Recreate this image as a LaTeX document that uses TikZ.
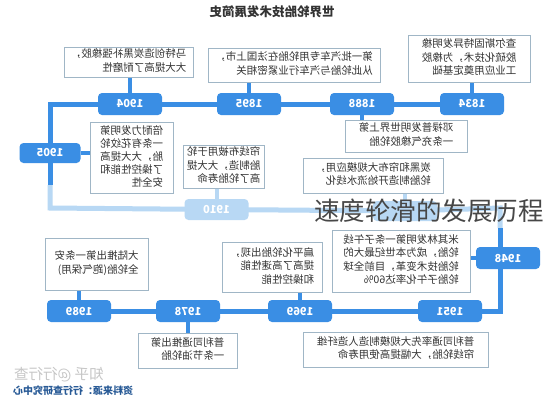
\documentclass[tikz,border=0pt]{standalone}
\usepackage{fontspec}
\setmainfont{Noto Sans CJK SC}
\usepackage{graphicx}
\usepackage{tikz}
\usetikzlibrary{backgrounds}
\definecolor{tlblue}{RGB}{58,142,228}
\definecolor{tlfade}{RGB}{184,216,244}
\definecolor{boxln}{RGB}{160,182,198}
\definecolor{ink}{RGB}{51,51,51}
\definecolor{srcblue}{RGB}{40,90,150}
\newcommand{\mirr}[1]{\reflectbox{\begin{tabular}{@{}l@{}}#1\end{tabular}}}

\begin{document}
\begin{tikzpicture}[x=1pt,y=-1pt,
  yearpill/.style={fill=tlblue,rounded corners=4pt,minimum width=64pt,minimum height=22pt,
    inner sep=0pt,text=white,font=\bfseries\fontsize{11}{11}\selectfont},
  fadepill/.style={yearpill,fill=tlfade},
  notebox/.style={draw=boxln,line width=0.8pt,fill=white,text=ink,inner sep=0pt,
    font=\fontsize{10.5}{13.5}\selectfont},
  tl/.style={line width=5pt,tlblue}, tlfd/.style={line width=5pt,tlfade},
  stem/.style={line width=4pt,tlblue}, stemfd/.style={line width=4pt,tlfade}]
\useasboundingbox (0,0) rectangle (545,400);

% title
\node[font=\bfseries\fontsize{12.5}{12.5}\selectfont,text=ink] (title) at (272,12) {\reflectbox{世界轮胎技术发展简史}};

% top row
\node[yearpill] (p1834) at (472,104) {\reflectbox{1834}};
\node[yearpill] (p1888) at (362,104) {\reflectbox{1888}};
\node[yearpill] (p1895) at (249,104) {\reflectbox{1895}};
\node[yearpill] (p1904) at (130,104) {\reflectbox{1904}};
\node[notebox,minimum width=122pt,minimum height=47pt] (n1834) at (469,58.5)
  {\mirr{查尔斯固特异发明橡\\胶硫化技术，为橡胶\\工业应用奠定基础}};
\node[notebox,minimum width=172pt,minimum height=34pt] (n1895) at (294,65)
  {\mirr{第一批汽车专用轮胎在法国上市，\\从此轮胎与汽车行业紧密相关}};
\node[notebox,minimum width=129pt,minimum height=30pt] (n1904) at (128.5,62)
  {\mirr{马特创造炭黑补强橡胶，\\大大提高了耐磨性}};
\node[notebox,minimum width=122pt,minimum height=32pt] (n1888) at (406,136)
  {\mirr{邓禄普发明世界上第\\一条充气橡胶轮胎}};

% middle (faded) row
\node[yearpill,minimum width=61pt,minimum height=20pt] (p1905) at (50,153) {\reflectbox{1905}};
\node[notebox,minimum width=83pt,minimum height=71pt,font=\fontsize{10.5}{13}\selectfont] (n1905) at (131.5,157.5)
  {\mirr{倍耐力发明第\\一条有花纹轮\\胎，大大提高\\了操控性能和\\安全性}};
\node[fadepill,minimum height=21pt] (p1910) at (216.5,209.5) {\reflectbox{1910}};
\node[notebox,minimum width=81pt,minimum height=43pt] (n1910) at (223.5,166.5)
  {\mirr{帘线布被用于轮\\胎制造，大大提\\高了轮胎寿命}};
\node[fadepill,minimum height=20pt] (phide) at (405,211) {};
\node[notebox,minimum width=140pt,minimum height=35pt] (nblack) at (373,175.5)
  {\mirr{炭黑和帘布大规模应用，\\轮胎制造开始流水线化}};

% lower rows
\node[yearpill] (p1948) at (508,258) {\reflectbox{1948}};
\node[notebox,minimum width=138pt,minimum height=62pt] (n1948) at (401,261)
  {\mirr{米其林发明第一条子午线\\轮胎，成为本世纪最大的\\轮胎技术变革，目前全球\\轮胎子午化率达60\%}};
\node[yearpill] (p1951) at (450,311) {\reflectbox{1951}};
\node[yearpill] (p1969) at (300,311) {\reflectbox{1969}};
\node[yearpill] (p1978) at (188,311) {\reflectbox{1978}};
\node[yearpill] (p1989) at (79,311) {\reflectbox{1989}};
\node[notebox,minimum width=185pt,minimum height=35pt] (n1951) at (395.5,349.5)
  {\mirr{普利司通率先大规模制造人造纤维\\帘线轮胎，大幅提高使用寿命}};
\node[notebox,minimum width=100pt,minimum height=50pt] (n1969) at (272,267)
  {\mirr{扁平化轮胎出现，\\提高了高速性能\\和操控性能}};
\node[notebox,minimum width=99pt,minimum height=35pt] (n1978) at (187.5,350.5)
  {\mirr{普利司通推出第\\一条节油轮胎}};
\node[notebox,minimum width=103pt,minimum height=52pt] (n1989) at (96.5,264)
  {\mirr{大陆推出第一条安\\全轮胎(跑气保用)}};

% bends of the timeline
\coordinate (cnw) at (50,104);
\coordinate (cfade1) at (50,185);
\coordinate (csw) at (50,208);
\coordinate (cne) at (500,208);
\coordinate (cfade2) at (500,228);
\coordinate (cse) at (500,311);

\begin{scope}[on background layer]
  \fill[white] (0,0) rectangle (545,400);
  \draw[tl] (p1834.center) -- (p1888.center) -- (p1895.center) -- (p1904.center) -- (cnw) -- (p1905.center) -- (cfade1);
  \draw[tlfd] (cfade1) -- (csw) -- (p1910.center) -- (phide.center) -- (cne) -- (cfade2);
  \draw[tl] (cfade2) -- (cse) -- (p1951.center) -- (p1969.center) -- (p1978.center) -- (p1989.center);
  % stems
  \draw[stem] (p1834) -- (p1834 |- n1834.south);
  \draw[stem] (p1895) -- (p1895 |- n1895.south);
  \draw[stem] (p1904) -- (p1904 |- n1904.south);
  \draw[stem] (p1888) -- (p1888 |- n1888.north);
  \draw[stem] (p1905) -- (p1905 -| n1905.west);
  \draw[stemfd] (p1910) -- (p1910 |- n1910.south);
  \draw[stemfd] (phide) -- (phide |- nblack.south);
  \draw[stem] (p1948) -- (p1948 -| n1948.east);
  \draw[stem] (p1969) -- (p1969 |- n1969.south);
  \draw[stem] (p1978) -- (p1978 |- n1978.north);
  \draw[stem] (p1989) -- (p1989 |- n1989.south);
\end{scope}

% overlay caption
\node[font=\fontsize{25.5}{25.5}\selectfont,text=black!72] (caption) at (429,211) {速度轮滑的发展历程};

% source and watermark
\node[anchor=west,font=\fontsize{14.5}{14.5}\selectfont,text=gray!45,inner sep=0pt] (wmark) at (14,375) {\reflectbox{知乎 @行行查}};
\node[anchor=west,font=\bfseries\fontsize{10}{10}\selectfont,text=srcblue,inner sep=0pt] (source) at (13,391) {\reflectbox{资料来源：行行查研究中心}};
\end{tikzpicture}
\end{document}
